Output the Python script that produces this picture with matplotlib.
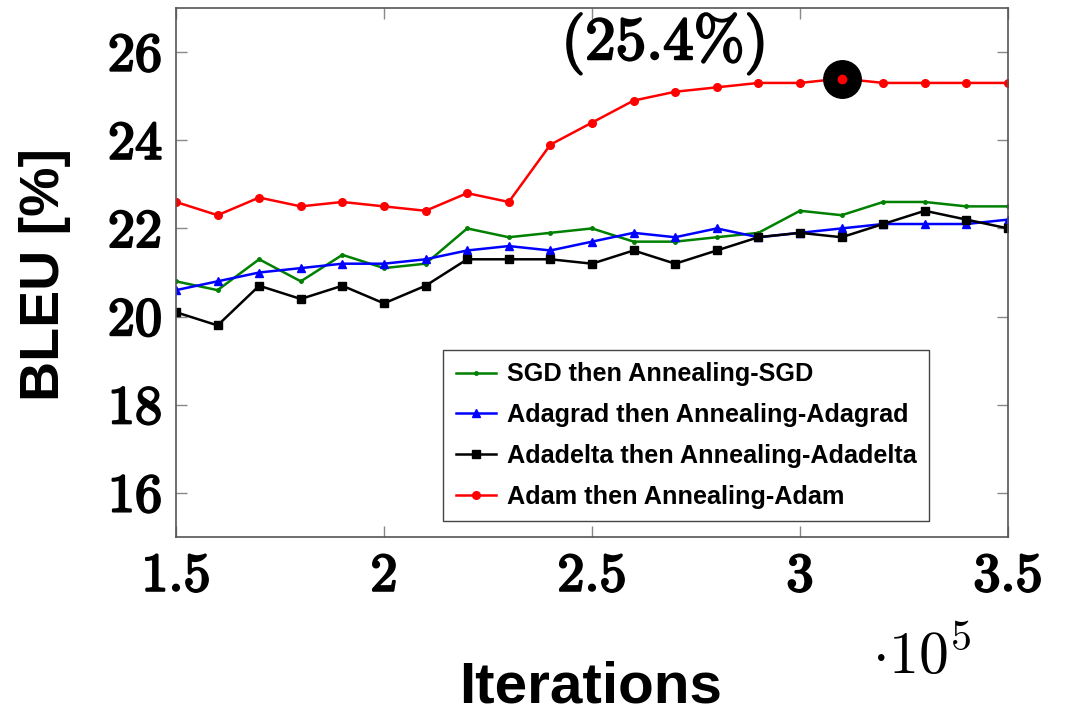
import numpy as np
import matplotlib
matplotlib.use("Agg")
import matplotlib.pyplot as plt
import matplotlib.patheffects as pe

plt.rcParams['mathtext.fontset'] = 'cm'
plt.rcParams['font.family'] = ['Liberation Sans', 'DejaVu Sans']

# iterations (x 10^5)
iters = [1.5, 1.6, 1.7, 1.8, 1.9, 2.0, 2.1, 2.2, 2.3, 2.4, 2.5,
         2.6, 2.7, 2.8, 2.9, 3.0, 3.1, 3.2, 3.3, 3.4, 3.5]

sgd = [20.8, 20.6, 21.3, 20.8, 21.4, 21.1, 21.2, 22.0, 21.8, 21.9, 22.0,
       21.7, 21.7, 21.8, 21.9, 22.4, 22.3, 22.6, 22.6, 22.5, 22.5]
adagrad = [20.6, 20.8, 21.0, 21.1, 21.2, 21.2, 21.3, 21.5, 21.6, 21.5, 21.7,
           21.9, 21.8, 22.0, 21.8, 21.9, 22.0, 22.1, 22.1, 22.1, 22.2]
adadelta = [20.1, 19.8, 20.7, 20.4, 20.7, 20.3, 20.7, 21.3, 21.3, 21.3, 21.2,
            21.5, 21.2, 21.5, 21.8, 21.9, 21.8, 22.1, 22.4, 22.2, 22.0]
adam = [22.6, 22.3, 22.7, 22.5, 22.6, 22.5, 22.4, 22.8, 22.6, 23.9, 24.4,
        24.9, 25.1, 25.2, 25.3, 25.3, 25.4, 25.3, 25.3, 25.3, 25.3]

labels = ['SGD then Annealing-SGD', 'Adagrad then Annealing-Adagrad',
          'Adadelta then Annealing-Adadelta', 'Adam then Annealing-Adam']

best_x = 3.1
best_y = 25.4

xticks = [1.5, 2, 2.5, 3, 3.5]
xtick_labels = ['1.5', '2', '2.5', '3', '3.5']
yticks = [16, 18, 20, 22, 24, 26]

# thicken computer modern roman to look like the bold latex numbers
bold_fx = [pe.withStroke(linewidth=1.6, foreground='black')]

fig = plt.figure(figsize=(10.71, 7.13), dpi=100)
ax = fig.add_axes([0.1643, 0.2468, 0.7769, 0.742])

ax.plot(iters, sgd, color='green', lw=1.8, marker='.', ms=5, label=labels[0])
ax.plot(iters, adagrad, color='blue', lw=1.8, marker='^', ms=6, label=labels[1])
ax.plot(iters, adadelta, color='black', lw=1.8, marker='s', ms=5.5, label=labels[2])
ax.plot(iters, adam, color='red', lw=1.8, marker='o', ms=5.5, label=labels[3])

# highlight the best point
ax.plot([best_x], [best_y], marker='o', ms=27, color='black', zorder=5)
ax.plot([best_x], [best_y], marker='o', ms=6, color='red', zorder=6)
ax.text(2.675, 26.2, '(25.4%)', fontsize=44, fontfamily='cmr10',
        ha='center', va='center', path_effects=bold_fx)

ax.set_xlim(1.5, 3.5)
ax.set_ylim(15, 27)
ax.set_xticks(xticks)
ax.set_xticklabels(xtick_labels)
ax.set_yticks(yticks)
ax.set_yticklabels([str(t) for t in yticks])
for t in ax.get_xticklabels() + ax.get_yticklabels():
    t.set_fontfamily('cmr10')
    t.set_fontsize(39)
    t.set_path_effects(bold_fx)
ax.tick_params(direction='in', length=8, width=1, color='#888888',
               top=True, right=True)
ax.tick_params(axis='x', pad=12)
ax.tick_params(axis='y', pad=10)

for s in ax.spines.values():
    s.set_color('#555555')
    s.set_linewidth(1.2)

ax.set_xlabel('Iterations', fontsize=42, fontweight='bold', va='center')
ax.xaxis.set_label_coords(0.498, -0.285)
ax.set_ylabel('BLEU [%]', fontsize=40, fontweight='bold', va='center')
ax.yaxis.set_label_coords(-0.157, 0.497)

fig.text(0.861, 0.08, r'$\cdot10^5$', fontsize=43, ha='center', va='center')

leg = ax.legend(loc='lower right', bbox_to_anchor=(0.905, 0.03), borderaxespad=0,
                fancybox=False, edgecolor='#444444', framealpha=1,
                handlelength=1.6, labelspacing=0.66, handletextpad=0.4,
                borderpad=0.5, prop={'weight': 'bold', 'size': 18.2})
leg.get_frame().set_linewidth(1.0)

fig.savefig('out.png', dpi=100)
